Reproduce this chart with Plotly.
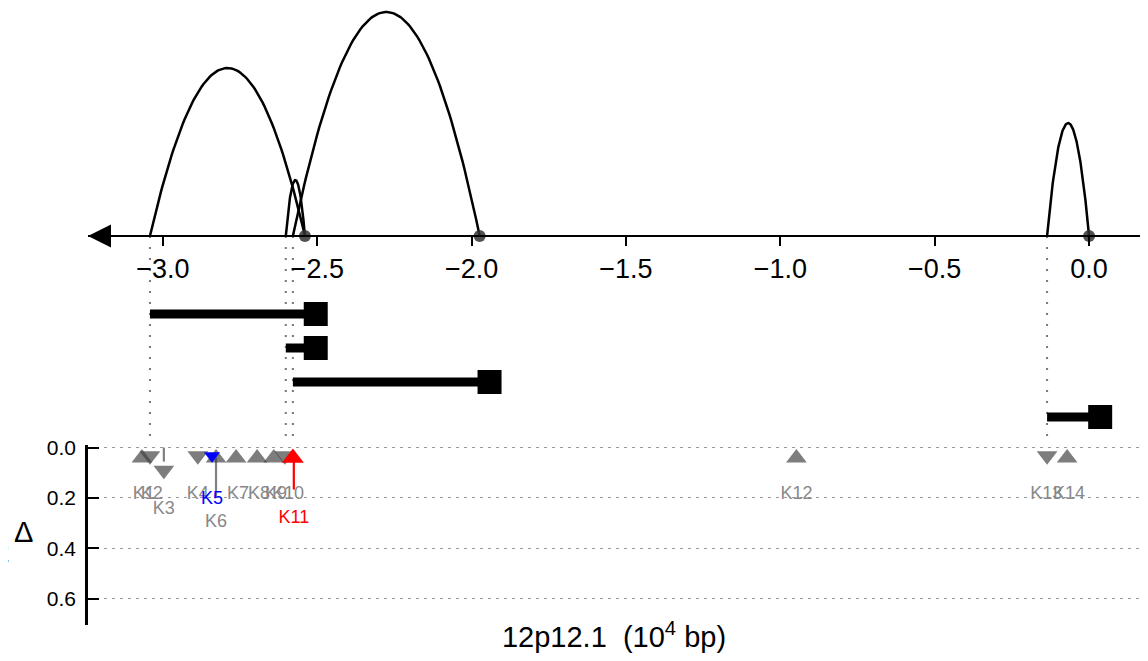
import numpy as np
import plotly.graph_objects as go

# ---------------- data ----------------
tick_vals = [-3.0, -2.5, -2.0, -1.5, -1.0, -0.5, 0.0]
tick_text = ["\u22123.0", "\u22122.5", "\u22122.0", "\u22121.5", "\u22121.0", "\u22120.5", "0.0"]

# interaction arcs (start, end, height in top-panel units)
arc_start = [-3.042, -2.602, -2.579, -0.136]
arc_end = [-2.540, -2.540, -1.974, 0.000]
arc_height = [168, 56, 224, 113]

# anchor points on the axis
anchor_pos = [-2.540, -1.974, 0.000]

# tracks (thick bars ending with a square)
track_start = [-3.042, -2.602, -2.579, -0.136]
track_end = [-2.505, -2.505, -1.942, 0.036]
track_row = [-78, -112, -146, -181]

# dotted guide lines
guide_x = [-3.042, -2.602, -2.579, -0.136]

# variants in the bottom panel
var_names = ["K1", "K2", "K3", "K4", "K5", "K6", "K7", "K8", "K9", "K10", "K11", "K12", "K13", "K14"]
var_pos = [-3.068, -3.042, -2.997, -2.887, -2.841, -2.828, -2.763, -2.695, -2.641, -2.605, -2.579, -0.948, -0.136, -0.071]
var_dir = ["up", "down", "down", "down", "down", "up", "up", "up", "up", "down", "up", "up", "down", "up"]
var_val = [0.042, 0.033, 0.090, 0.033, 0.033, 0.042, 0.042, 0.042, 0.042, 0.033, 0.042, 0.042, 0.033, 0.042]
var_label_x = [-3.062, -3.036, -2.997, -2.887, -2.841, -2.828, -2.757, -2.689, -2.634, -2.595, -2.576, -0.948, -0.139, -0.065]
var_label_y = [0.186, 0.186, 0.246, 0.186, 0.206, 0.296, 0.186, 0.186, 0.186, 0.186, 0.280, 0.186, 0.186, 0.186]
var_color = ["gray"] * 4 + ["blue"] + ["gray"] * 5 + ["red"] + ["gray"] * 3

# leader stems
stem_x = [-2.997, -2.828, -2.576]
stem_from = [0.000, 0.040, 0.048]
stem_to = [0.056, 0.195, 0.167]
stem_color = ["gray", "gray", "red"]

y_ticks = [0.0, 0.2, 0.4, 0.6]
y_tick_text = ["0.0", "0.2", "0.4", "0.6"]

FONT = "Liberation Sans, Arial, Helvetica, sans-serif"

# page body has an 8px margin: figure is placed at (8, 8)
W, H = 1132, 645
ML, MB = 80, 28
PH = H - MB          # plot-area height (reference y 8 .. 625)


def fy(ref_y):
    return (625 - ref_y) / PH


def fx(ref_x):
    return (ref_x - 88) / (W - ML)


fig = go.Figure()

# ---- top panel ----
for gx in guide_x:
    fig.add_trace(go.Scatter(x=[gx, gx], y=[0, -212], mode="lines",
                             line=dict(color="#777777", width=2, dash="2px,9px"),
                             hoverinfo="skip", showlegend=False, xaxis="x", yaxis="y"))

for s, e, h in zip(arc_start, arc_end, arc_height):
    t = np.linspace(0, 1, 100)
    xs = s + (e - s) * t
    ys = 4 * h * t * (1 - t)
    fig.add_trace(go.Scatter(x=xs, y=ys, mode="lines", line=dict(color="black", width=2.5),
                             hoverinfo="skip", showlegend=False, cliponaxis=False,
                             xaxis="x", yaxis="y"))

fig.add_trace(go.Scatter(x=anchor_pos, y=[0] * len(anchor_pos), mode="markers",
                         marker=dict(color="rgba(50,50,50,0.85)", size=12, line=dict(width=0)),
                         cliponaxis=False, showlegend=False, xaxis="x", yaxis="y"))

fig.add_trace(go.Scatter(x=[-3.2427], y=[0], mode="markers",
                         marker=dict(symbol="arrow-left", color="black", size=23, line=dict(width=0)),
                         cliponaxis=False, showlegend=False, xaxis="x", yaxis="y"))

for s, e, r in zip(track_start, track_end, track_row):
    fig.add_trace(go.Scatter(x=[s, e], y=[r, r], mode="lines", line=dict(color="black", width=9),
                             hoverinfo="skip", showlegend=False, xaxis="x", yaxis="y"))
fig.add_trace(go.Scatter(x=track_end, y=track_row, mode="markers",
                         marker=dict(symbol="square", color="black", size=24, line=dict(width=0)),
                         cliponaxis=False, showlegend=False, xaxis="x", yaxis="y"))

# ---- bottom panel ----
for sx, a, b, c in zip(stem_x, stem_from, stem_to, stem_color):
    fig.add_trace(go.Scatter(x=[sx, sx], y=[a, b], mode="lines",
                             line=dict(color=c, width=2.2),
                             hoverinfo="skip", showlegend=False, xaxis="x2", yaxis="y2"))

fill = {"gray": "rgba(64,64,64,0.68)", "blue": "rgb(0,0,255)", "red": "rgb(255,0,0)"}
size = {"gray": 18, "blue": 14, "red": 19}
order = [i for i, c in enumerate(var_color) if c == "gray"] + [i for i, c in enumerate(var_color) if c != "gray"]
for i in order:
    c = var_color[i]
    fig.add_trace(go.Scatter(x=[var_pos[i]], y=[var_val[i]], mode="markers",
                             marker=dict(symbol="triangle-" + var_dir[i], color=fill[c], size=size[c],
                                         line=dict(width=0)),
                             cliponaxis=False, showlegend=False, xaxis="x2", yaxis="y2"))

txtcol = {"gray": "#888888", "blue": "#0000ff", "red": "#ff0000"}
for i in order:
    c = var_color[i]
    fig.add_trace(go.Scatter(x=[var_label_x[i]], y=[var_label_y[i]], mode="text",
                             text=[var_names[i]], textposition="middle center",
                             textfont=dict(family=FONT, size=18, color=txtcol[c]),
                             cliponaxis=False, showlegend=False, xaxis="x2", yaxis="y2"))

fig.update_layout(
    width=W, height=H,
    margin=dict(l=ML, r=0, t=0, b=MB, autoexpand=False),
    paper_bgcolor="white", plot_bgcolor="white",
    font=dict(family=FONT, color="black"),
    xaxis=dict(range=[-3.2427, 0.165], anchor="free", position=fy(236), domain=[0, 1],
               automargin=False,
               showline=True, linecolor="black", linewidth=2,
               ticks="outside", ticklen=9, tickwidth=1.5, tickcolor="black",
               tickvals=tick_vals, ticktext=tick_text,
               tickfont=dict(family=FONT, size=27, color="black"),
               showgrid=False, zeroline=False),
    yaxis=dict(domain=[fy(448), 1], range=[-212, 228], visible=False, fixedrange=True),
    xaxis2=dict(matches="x", anchor="y2", domain=[0, 1], showticklabels=False, ticks="",
                automargin=False,
                showline=False, showgrid=False, zeroline=False,
                title=dict(text="12p12.1\u00a0 (10<sup>4</sup> bp)", font=dict(family=FONT, size=29, color="black"),
                           standoff=3)),
    yaxis2=dict(domain=[0, fy(445)], range=[0.705, -0.01], anchor="x2", automargin=False,
                showline=True, linecolor="black", linewidth=2.5,
                ticks="inside", ticklen=11, tickwidth=1.5, tickcolor="black",
                tickvals=y_ticks, ticktext=y_tick_text, ticklabelstandoff=5,
                tickfont=dict(family=FONT, size=21, color="black"),
                showgrid=True, gridcolor="#999999", gridwidth=1, griddash="3px,5px",
                zeroline=False),
    annotations=[
        dict(text="2", xref="paper", yref="paper", x=fx(12), y=fy(552),
             xanchor="right", yanchor="middle", showarrow=False,
             font=dict(family=FONT, size=28, color="black")),
        dict(text="\u0394", xref="paper", yref="paper", x=fx(23), y=fy(532),
             xanchor="center", yanchor="middle", showarrow=False,
             font=dict(family=FONT, size=29, color="black")),
    ],
)

fig.write_html("out.html")
